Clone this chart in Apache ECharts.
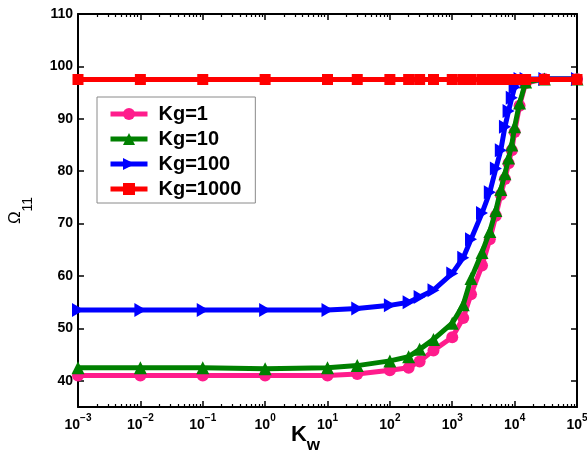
<!DOCTYPE html>
<html><head><meta charset="utf-8">
<script src="https://cdn.jsdelivr.net/npm/echarts@6/dist/echarts.min.js"></script>
<style>html,body{margin:0;padding:0;background:#fff}#c{width:587px;height:456px}</style>
</head><body><div id="c"></div>
<script>
// ---- data ----
const kw = [0.001, 0.01, 0.1, 1, 10, 30, 100, 200, 300, 500, 1000, 1500, 2000, 3000, 4000, 5000, 6000, 7000, 8000, 9000, 10000, 12000, 15000, 30000, 100000];
const kg1 = [41.0, 41.0, 41.0, 41.0, 41.0, 41.3, 42.0, 42.5, 43.7, 45.8, 48.3, 52.0, 56.5, 62.0, 67.0, 71.5, 75.5, 78.5, 81.5, 84.0, 87.5, 92.5, 96.8, 97.6, 97.6];
const kg10 = [42.5, 42.5, 42.5, 42.3, 42.5, 42.9, 43.8, 44.6, 46.0, 47.9, 51.0, 54.5, 59.5, 64.5, 68.5, 72.5, 76.5, 79.5, 82.5, 85.0, 88.5, 93.0, 97.0, 97.6, 97.6];
const kg100 = [53.5, 53.5, 53.5, 53.5, 53.5, 53.8, 54.4, 55.0, 56.0, 57.3, 60.5, 63.5, 67.0, 72.0, 76.0, 80.5, 84.0, 88.5, 91.5, 94.0, 96.0, 97.6, 97.6, 97.6, 97.6];
const kg1000 = [97.5, 97.5, 97.5, 97.5, 97.5, 97.5, 97.5, 97.5, 97.5, 97.5, 97.5, 97.5, 97.5, 97.5, 97.5, 97.5, 97.5, 97.5, 97.5, 97.5, 97.5, 97.5, 97.5, 97.5, 97.5];
const seriesNames = ['Kg=1', 'Kg=10', 'Kg=100', 'Kg=1000'];
const yTicks = [40, 50, 60, 70, 80, 90, 100, 110];
const xMajor = [0.001, 0.01, 0.1, 1, 10, 100, 1000, 10000, 100000];
const xMinorMult = [2, 3, 4, 5, 6, 7, 8, 9];
const xMinor = [];
for (let i = 0; i < xMajor.length - 1; i++) for (const m of xMinorMult) xMinor.push(+(xMajor[i] * m).toPrecision(6));

const F = '"Liberation Sans", Arial, sans-serif';
const pair = ys => kw.map((x, i) => [x, ys[i]]);
const chart = echarts.init(document.getElementById('c'), null, {renderer: 'canvas'});

const baseX = {
  type: 'log', logBase: 10, min: 0.001, max: 100000, splitLine: {show: false}, minorTick: {show: false}
};
const exps = {'-3':'−3','-2':'−2','-1':'−1'};
chart.setOption({
  animation: false,
  backgroundColor: '#fff',
  grid: {left: 78, right: 10, top: 14, bottom: 49, containLabel: false, outerBoundsMode: 'none'},
  legend: {
    orient: 'vertical', left: 97, top: 97, padding: [7, 14, 4, 11], itemGap: 5,
    itemWidth: 37, itemHeight: 15,
    lineStyle: {width: 5},
    borderColor: '#8a8a8a', borderWidth: 1, backgroundColor: '#fff',
    textStyle: {fontFamily: F, fontWeight: 'bold', fontSize: 20, color: '#000', padding: [0, 0, 0, 6]},
    data: seriesNames
  },
  xAxis: [
    Object.assign({}, baseX, {
      position: 'bottom',
      axisLine: {show: true, lineStyle: {color: '#000', width: 2}},
      axisTick: {show: true, inside: true, length: 6, lineStyle: {color: '#000', width: 1.5}, customValues: xMajor},
      axisLabel: {
        show: true, customValues: xMajor, margin: 6,
        formatter: v => { const e = String(Math.round(Math.log10(v))); return '{b|10}{s|' + (exps[e] || e) + '}'; },
        rich: {
          b: {fontFamily: F, fontWeight: 'bold', fontSize: 14, color: '#000', lineHeight: 24, verticalAlign: 'middle'},
          s: {fontFamily: F, fontWeight: 'bold', fontSize: 10, color: '#000', lineHeight: 10, verticalAlign: 'top'}
        }
      },
      name: '{k|K}{w|w}', nameLocation: 'middle', nameGap: 9, nameMoveOverlap: false,
      nameTextStyle: {
        padding: [0, 44, 0, 0],
        rich: {
          k: {fontFamily: F, fontWeight: 'bold', fontSize: 22, color: '#000', lineHeight: 38, verticalAlign: 'middle'},
          w: {fontFamily: F, fontWeight: 'bold', fontSize: 17, color: '#000', lineHeight: 12, verticalAlign: 'bottom'}
        }
      }
    }),
    Object.assign({}, baseX, {
      position: 'bottom', axisLine: {show: false},
      axisTick: {show: true, inside: true, length: 3, lineStyle: {color: '#000', width: 1.2}, customValues: xMinor},
      axisLabel: {show: false}
    }),
    Object.assign({}, baseX, {
      position: 'top',
      axisLine: {show: true, lineStyle: {color: '#000', width: 2}},
      axisTick: {show: true, inside: true, length: 6, lineStyle: {color: '#000', width: 1.5}, customValues: xMajor},
      axisLabel: {show: false}
    }),
    Object.assign({}, baseX, {
      position: 'top', axisLine: {show: false},
      axisTick: {show: true, inside: true, length: 3, lineStyle: {color: '#000', width: 1.2}, customValues: xMinor},
      axisLabel: {show: false}
    })
  ],
  yAxis: [
    {
      type: 'value', min: 35, max: 110, position: 'left', splitLine: {show: false},
      axisLine: {show: true, lineStyle: {color: '#000', width: 2}},
      axisTick: {show: true, inside: true, length: 6, lineStyle: {color: '#000', width: 1.5}, customValues: yTicks},
      axisLabel: {show: true, customValues: yTicks, margin: 5, fontFamily: F, fontWeight: 'bold', fontSize: 14, color: '#000'},
      name: '{o|Ω}{n|11}', nameLocation: 'middle', nameRotate: 90, nameGap: 43, nameMoveOverlap: false,
      nameTextStyle: {
        rich: {
          o: {fontFamily: F, fontSize: 17, color: '#000', lineHeight: 40, verticalAlign: 'middle'},
          n: {fontFamily: F, fontSize: 14, color: '#000', lineHeight: 10, verticalAlign: 'bottom'}
        }
      }
    },
    {
      type: 'value', min: 35, max: 110, position: 'right', splitLine: {show: false},
      axisLine: {show: true, lineStyle: {color: '#000', width: 2}},
      axisTick: {show: true, inside: true, length: 6, lineStyle: {color: '#000', width: 1.5}, customValues: yTicks},
      axisLabel: {show: false}
    }
  ],
  series: [
    {name: seriesNames[0], type: 'line', data: pair(kg1), xAxisIndex: 0, yAxisIndex: 0,
     symbol: 'circle', symbolSize: 12, color: '#ff1c8c', lineStyle: {width: 5, color: '#ff1c8c'}, itemStyle: {color: '#ff1c8c'}, z: 2},
    {name: seriesNames[1], type: 'line', data: pair(kg10), xAxisIndex: 0, yAxisIndex: 0,
     symbol: 'triangle', symbolSize: [13, 13], color: '#008000', lineStyle: {width: 5, color: '#008000'}, itemStyle: {color: '#008000'}, z: 3},
    {name: seriesNames[2], type: 'line', data: pair(kg100), xAxisIndex: 0, yAxisIndex: 0,
     symbol: 'triangle', symbolRotate: -90, symbolSize: [14, 12], color: '#0000ff', lineStyle: {width: 5, color: '#0000ff'}, itemStyle: {color: '#0000ff'}, z: 4},
    {name: seriesNames[3], type: 'line', data: pair(kg1000), xAxisIndex: 0, yAxisIndex: 0,
     symbol: 'rect', symbolSize: 11, color: '#ff0000', lineStyle: {width: 5, color: '#ff0000'}, itemStyle: {color: '#ff0000'}, z: 5}
  ]
});
</script>
</body></html>
